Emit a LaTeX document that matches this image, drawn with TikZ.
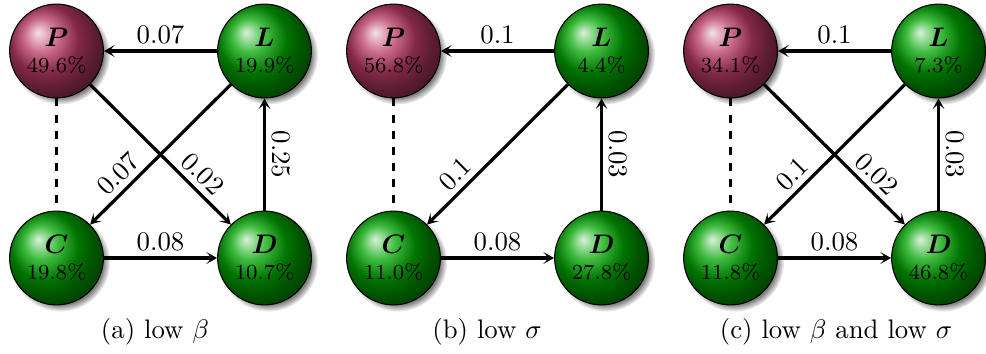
\documentclass[tikz,border=0pt]{standalone}
\usetikzlibrary{shadows,arrows.meta}
\begin{document}
\begin{tikzpicture}[x=0.37313pt,y=-0.37313pt,
  ballnode/.style={circle,draw=black,minimum size=35pt,inner sep=0pt,align=center,font=\footnotesize,
    circular drop shadow={shadow xshift=1.4pt,shadow yshift=-1.4pt,shadow scale=1.06}},
  pnode/.style={ballnode,ball color=purple!75!white!90!black},
  gnode/.style={ballnode,ball color=green!65!black},
  edge/.style={-{Stealth[length=4pt,width=4.4pt,inset=2pt]},very thick},
  dashedge/.style={very thick,dashed},
  lab/.style={inner sep=2pt,font=\normalsize},
  captext/.style={font=\normalsize}]
\useasboundingbox (0,0) rectangle (986,354);
\newcommand{\ballname}[1]{{\normalsize\boldmath$#1$}}

% ---------- panel (a) ----------
\node[pnode] (Pa) at (56.5,51)  {\ballname{P}\\49.6\%};
\node[gnode] (La) at (264.5,51) {\ballname{L}\\19.9\%};
\node[gnode] (Ca) at (56.5,258) {\ballname{C}\\19.8\%};
\node[gnode] (Da) at (264.5,258){\ballname{D}\\10.7\%};
\draw[edge] (La) -- node[lab,anchor=south]{0.07} (Pa);
\draw[edge] (Ca) -- node[lab,anchor=south]{0.08} (Da);
\draw[edge] (Da) -- node[lab,anchor=south,rotate=-90]{0.25} (La);
\draw[edge] (La) -- node[lab,pos=0.72,anchor=south,rotate=45]{0.07} (Ca);
\draw[edge] (Pa) -- node[lab,pos=0.72,anchor=south,rotate=-45]{0.02} (Da);
\draw[dashedge] (Pa) -- (Ca);
\node[captext] (capa) at (155,332) {(a) low $\beta$};

% ---------- panel (b) ----------
\node[pnode] (Pb) at (393.5,51)  {\ballname{P}\\56.8\%};
\node[gnode] (Lb) at (601.5,51)  {\ballname{L}\\4.4\%};
\node[gnode] (Cb) at (393.5,258) {\ballname{C}\\11.0\%};
\node[gnode] (Db) at (601.5,258) {\ballname{D}\\27.8\%};
\draw[edge] (Lb) -- node[lab,anchor=south]{0.1} (Pb);
\draw[edge] (Cb) -- node[lab,anchor=south]{0.08} (Db);
\draw[edge] (Db) -- node[lab,anchor=south,rotate=-90]{0.03} (Lb);
\draw[edge] (Lb) -- node[lab,pos=0.72,anchor=south,rotate=45]{0.1} (Cb);
\draw[dashedge] (Pb) -- (Cb);
\node[captext] (capb) at (487,332) {(b) low $\sigma$};

% ---------- panel (c) ----------
\node[pnode] (Pc) at (730.5,51)  {\ballname{P}\\34.1\%};
\node[gnode] (Lc) at (938.5,51)  {\ballname{L}\\7.3\%};
\node[gnode] (Cc) at (730.5,258) {\ballname{C}\\11.8\%};
\node[gnode] (Dc) at (938.5,258) {\ballname{D}\\46.8\%};
\draw[edge] (Lc) -- node[lab,anchor=south]{0.1} (Pc);
\draw[edge] (Cc) -- node[lab,anchor=south]{0.08} (Dc);
\draw[edge] (Dc) -- node[lab,anchor=south,rotate=-90]{0.03} (Lc);
\draw[edge] (Lc) -- node[lab,pos=0.72,anchor=south,rotate=45]{0.1} (Cc);
\draw[edge] (Pc) -- node[lab,pos=0.72,anchor=south,rotate=-45]{0.02} (Dc);
\draw[dashedge] (Pc) -- (Cc);
\node[captext] (capc) at (836,332) {(c) low $\beta$ and low $\sigma$};
\end{tikzpicture}
\end{document}
